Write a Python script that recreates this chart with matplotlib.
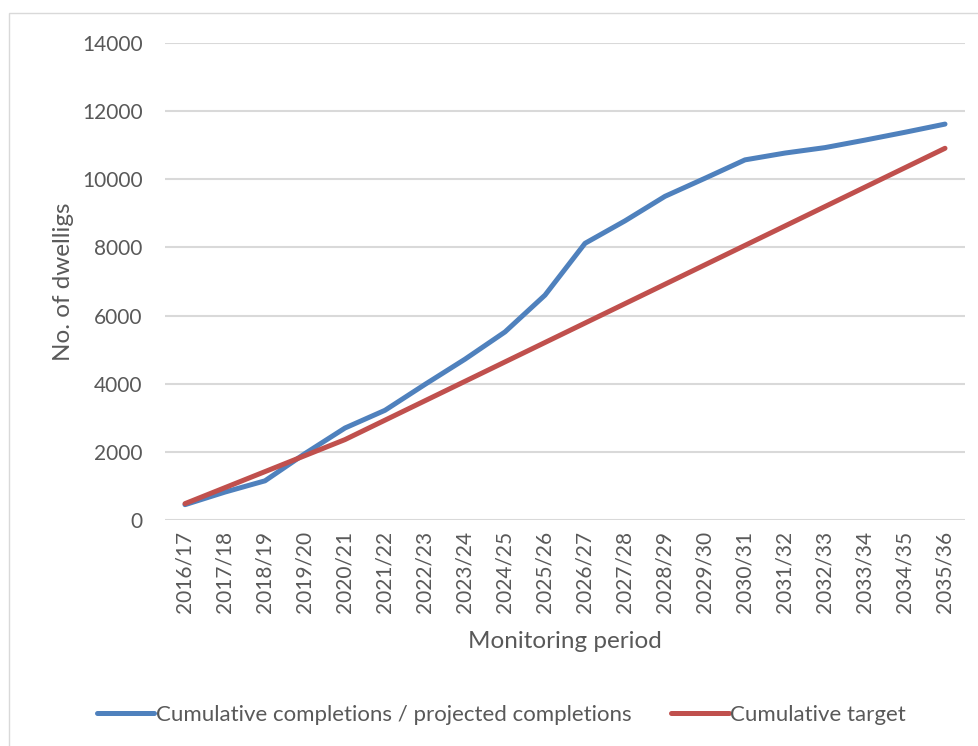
import matplotlib
matplotlib.use("Agg")
import matplotlib.pyplot as plt
from matplotlib.patches import Rectangle

periods = ["2016/17", "2017/18", "2018/19", "2019/20", "2020/21", "2021/22", "2022/23",
           "2023/24", "2024/25", "2025/26", "2026/27", "2027/28", "2028/29", "2029/30",
           "2030/31", "2031/32", "2032/33", "2033/34", "2034/35", "2035/36"]
completions = [450, 820, 1150, 1950, 2700, 3220, 3980, 4720, 5520, 6600, 8120, 8780,
               9500, 10030, 10570, 10770, 10930, 11150, 11380, 11620]
target = [480, 950, 1420, 1890, 2360, 2930, 3500, 4070, 4640, 5210, 5780, 6350,
          6920, 7490, 8060, 8630, 9200, 9770, 10340, 10910]
yticks = [0, 2000, 4000, 6000, 8000, 10000, 12000, 14000]

plt.rcParams['font.family'] = ['Lato', 'DejaVu Sans']
grey = '#595959'

fig = plt.figure(figsize=(9.79, 7.46), dpi=100)
fig.patches.append(Rectangle((9/979, -0.01), 1.0, (746 - 13) / 746 + 0.01,
                             transform=fig.transFigure, fill=False,
                             edgecolor='#D9D9D9', linewidth=1.0))
ax = fig.add_axes([165/979, (746-520)/746, 800/979, (520-43)/746])

x = list(range(len(periods)))
l1, = ax.plot(x, completions, color='#4F81BD', linewidth=3.6, solid_capstyle='round',
              label='Cumulative completions / projected completions')
l2, = ax.plot(x, target, color='#C0504D', linewidth=3.6, solid_capstyle='round',
              label='Cumulative target')

ax.set_xlim(-0.5, len(periods) - 0.5)
ax.set_ylim(0, 14000)
ax.set_yticks(yticks)
ax.set_yticklabels([str(v) for v in yticks])
ax.set_xticks(x)
ax.set_xticklabels(periods, rotation=90)
ax.tick_params(axis='both', length=0, labelsize=15, labelcolor=grey)
ax.tick_params(axis='y', pad=16)
ax.tick_params(axis='x', pad=8)
ax.grid(axis='y', color='#D9D9D9', linewidth=1.5)
ax.set_axisbelow(True)
for s in ax.spines.values():
    s.set_visible(False)

ax.set_ylabel('No. of dwelligs', fontsize=17.5, color=grey, labelpad=6)
ax.set_xlabel('Monitoring period', fontsize=17.5, color=grey, labelpad=13)

fig.legend(handles=[l1, l2], loc='center', bbox_to_anchor=(0.512, (746-715)/746),
           ncol=2, frameon=False, fontsize=16, handlelength=2.6, handletextpad=0.05,
           columnspacing=1.8, labelcolor=grey)

fig.savefig('out.png', dpi=100)
